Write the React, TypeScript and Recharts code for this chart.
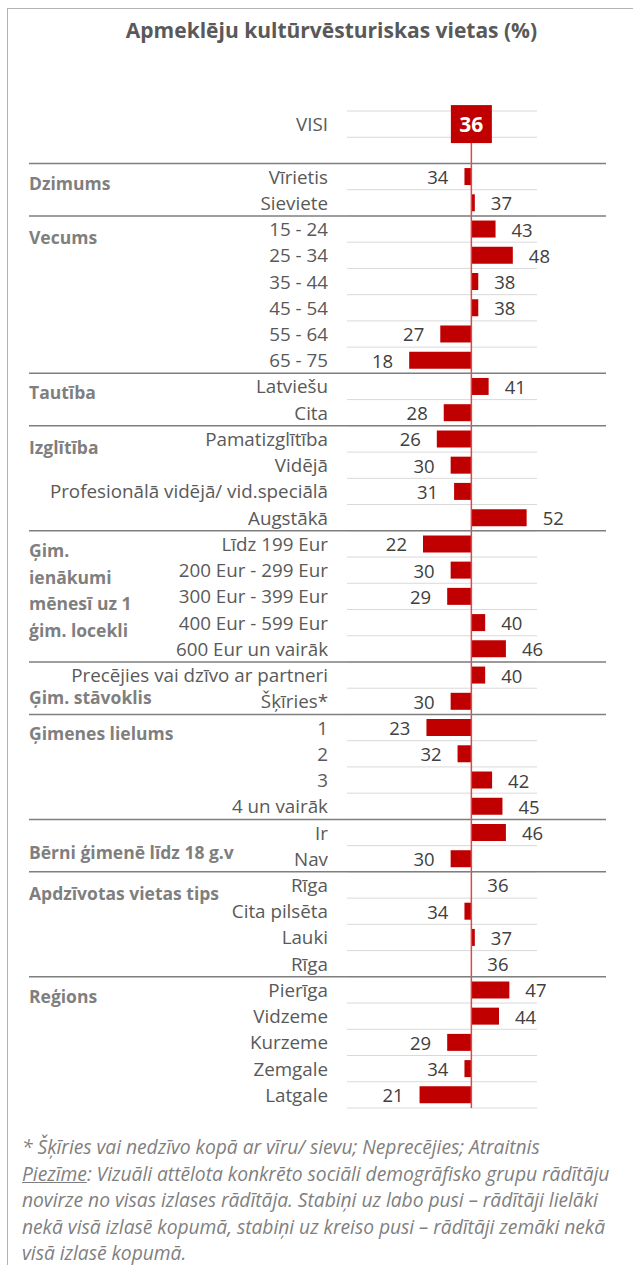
import {
  BarChart,
  Bar,
  XAxis,
  YAxis,
  CartesianGrid,
  ReferenceLine,
  LabelList,
} from "recharts";

// rows top to bottom, "" is the empty spacer row under VISI
const categories = [
  "VISI", "",
  "Vīrietis", "Sieviete",
  "15 - 24", "25 - 34", "35 - 44", "45 - 54", "55 - 64", "65 - 75",
  "Latviešu", "Cita",
  "Pamatizglītība", "Vidējā", "Profesionālā vidējā/ vid.speciālā", "Augstākā",
  "Līdz 199 Eur", "200 Eur - 299 Eur", "300 Eur - 399 Eur", "400 Eur - 599 Eur", "600 Eur un vairāk",
  "Precējies vai dzīvo ar partneri", "Šķīries*",
  "1", "2", "3", "4  un vairāk",
  "Ir", "Nav",
  "Rīga", "Cita pilsēta", "Lauki", "Rīga",
  "Pierīga", "Vidzeme", "Kurzeme", "Zemgale", "Latgale",
];

const values = [
  36, null,
  34, 37,
  43, 48, 38, 38, 27, 18,
  41, 28,
  26, 30, 31, 52,
  22, 30, 29, 40, 46,
  40, 30,
  23, 32, 42, 45,
  46, 30,
  36, 34, 37, 36,
  47, 44, 29, 34, 21,
];

const TOTAL = 36;

const groupNames = [
  "Dzimums",
  "Vecums",
  "Tautība",
  "Izglītība",
  "Ģim.\nienākumi\nmēnesī uz 1\nģim. locekli",
  "Ģim. stāvoklis",
  "Ģimenes lielums",
  "Bērni ģimenē līdz 18 g.v",
  "Apdzīvotas vietas tips",
  "Reģions",
];
const groupStartRow = [2, 4, 10, 12, 16, 21, 23, 27, 29, 33];
// vertical nudge of each group title from its first row
const groupDy = [6, 8, 6, 8, 6, 22, 5, 19, 8, 6];

const data = categories.map((name, i) => ({
  row: i,
  name,
  value: values[i],
  range: values[i] == null ? null : [TOTAL, values[i]],
}));

const W = 633;
const H = 1125;
const M = { top: 111, right: 96, bottom: 17, left: 0 };
const ROW_H = (H - M.top - M.bottom) / categories.length;
const FONT = "'Open Sans', sans-serif";

function CategoryTick(props: any) {
  const { x, y, payload, index } = props;
  const g = groupStartRow.indexOf(index);
  return (
    <g>
      {g >= 0 && (
        <line
          x1={29}
          x2={606}
          y1={y - ROW_H / 2}
          y2={y - ROW_H / 2}
          stroke="#7f7f7f"
          strokeWidth={1.5}
        />
      )}
      {g >= 0 && (
        <text
          x={29}
          y={y + groupDy[g]}
          fill="#7f7f7f"
          fontFamily={FONT}
          fontSize={17.5}
          fontWeight={700}
          dominantBaseline="central"
        >
          {groupNames[g].split("\n").map((ln, i) => (
            <tspan key={i} x={29} dy={i === 0 ? 0 : 26.7}>
              {ln}
            </tspan>
          ))}
        </text>
      )}
      <text
        x={x + 3}
        y={y}
        textAnchor="end"
        dominantBaseline="central"
        fill="#595959"
        fontFamily={FONT}
        fontSize={18.8}
      >
        {payload.value}
      </text>
    </g>
  );
}

function ValueLabel(props: any) {
  const { x, y, width, height, value: row } = props;
  const value = values[row];
  if (value == null) return null;
  const cy = y + height / 2;
  const left = Math.min(x, x + width);
  const right = Math.max(x, x + width);
  if (row === 0) {
    const cx = (left + right) / 2;
    return (
      <g>
        <rect x={cx - 20.5} y={cy - 19} width={41} height={38} fill="#c00000" />
        <text
          x={cx}
          y={cy}
          textAnchor="middle"
          dominantBaseline="central"
          fill="#ffffff"
          fontFamily={FONT}
          fontSize={21}
          fontWeight={700}
        >
          {value}
        </text>
      </g>
    );
  }
  const up = value >= TOTAL;
  return (
    <text
      x={up ? right + 16 : left - 16}
      y={cy}
      textAnchor={up ? "start" : "end"}
      dominantBaseline="central"
      fill="#404040"
      fontFamily={FONT}
      fontSize={18.5}
    >
      {value}
    </text>
  );
}

export default function App() {
  return (
    <div
      style={{
        position: "absolute",
        left: 0,
        top: 0,
        width: W,
        height: 1265,
        background: "#fff",
        overflow: "hidden",
        fontFamily: FONT,
      }}
    >
      {/* frame */}
      <div
        style={{
          position: "absolute",
          left: 7,
          top: 8,
          width: W,
          height: 1300,
          borderLeft: "1.5px solid #b4b4b4",
          borderTop: "1.5px solid #b4b4b4",
        }}
      />
      <div
        style={{
          position: "absolute",
          left: 0,
          top: 15,
          width: 663,
          textAlign: "center",
          fontSize: 21,
          fontWeight: 700,
          color: "#595959",
          lineHeight: "30px",
        }}
      >
        Apmeklēju kultūrvēsturiskas vietas (%)
      </div>

      <div style={{ position: "absolute", left: 0, top: 0 }}>
        <BarChart
          width={W}
          height={H}
          data={data}
          layout="vertical"
          margin={M}
          barCategoryGap="17.5%"
        >
          <CartesianGrid
            vertical={false}
            stroke="#d9d9d9"
            horizontalCoordinatesGenerator={({ offset }: any) =>
              categories
                .map((_, i) => offset.top + i * (offset.height / categories.length))
                .concat(offset.top + offset.height)
            }
          />
          <XAxis type="number" domain={[0, 55]} hide />
          <YAxis
            type="category"
            dataKey="name"
            width={347}
            axisLine={false}
            tickLine={false}
            tickMargin={16}
            interval={0}
            tick={<CategoryTick />}
          />
          <ReferenceLine x={TOTAL} stroke="#e04848" strokeWidth={1.5} />
          <Bar
            dataKey="range"
            fill="#c00000"
            minPointSize={0.01}
            isAnimationActive={false}
          >
            <LabelList dataKey="row" content={<ValueLabel />} />
          </Bar>
        </BarChart>
      </div>

      <div
        style={{
          position: "absolute",
          left: 22,
          top: 1134,
          fontSize: 19.3,
          fontStyle: "italic",
          color: "#7f7f7f",
          lineHeight: "26.5px",
          whiteSpace: "nowrap",
          letterSpacing: -0.05,
        }}
      >
        <div>* Šķīries vai nedzīvo kopā ar vīru/ sievu; Neprecējies; Atraitnis</div>
        <div>
          <span style={{ textDecoration: "underline" }}>Piezīme</span>: Vizuāli attēlota
          konkrēto sociāli demogrāfisko grupu rādītāju
        </div>
        <div>novirze no visas izlases rādītāja. Stabiņi uz labo pusi – rādītāji lielāki</div>
        <div>nekā visā izlasē kopumā, stabiņi uz kreiso pusi – rādītāji zemāki nekā</div>
        <div>visā izlasē kopumā.</div>
      </div>
    </div>
  );
}
